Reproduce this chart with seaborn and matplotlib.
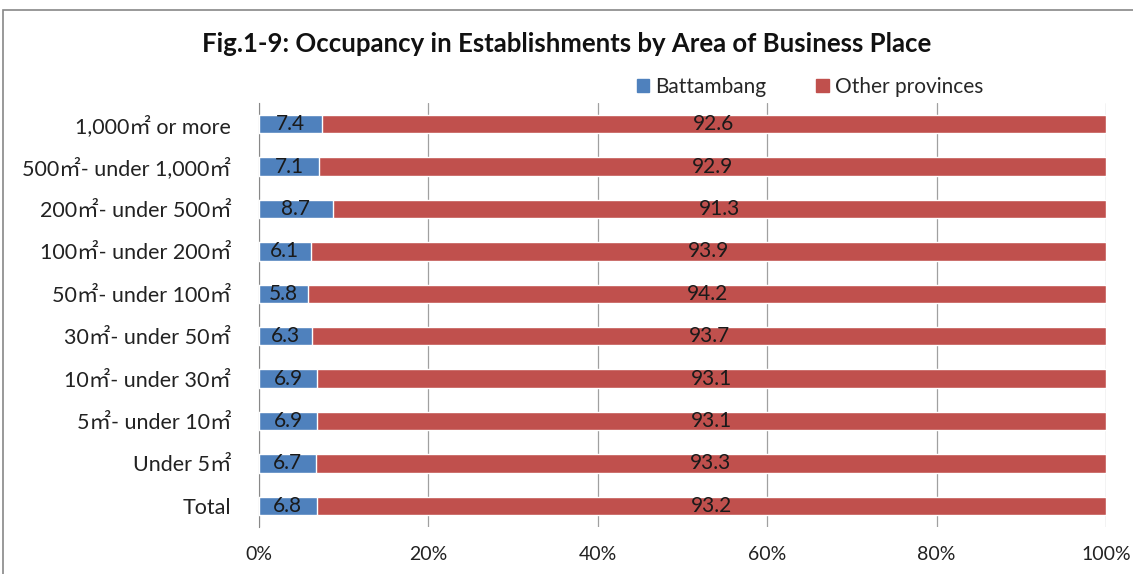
import pandas as pd
import seaborn as sns
import matplotlib.pyplot as plt
from matplotlib.patches import Rectangle, Patch

categories = ["1,000㎡ or more", "500㎡- under 1,000㎡", "200㎡- under 500㎡",
              "100㎡- under 200㎡", "50㎡- under 100㎡", "30㎡- under 50㎡",
              "10㎡- under 30㎡", "5㎡- under 10㎡", "Under 5㎡", "Total"]
battambang = [7.4, 7.1, 8.7, 6.1, 5.8, 6.3, 6.9, 6.9, 6.7, 6.8]
other = [92.6, 92.9, 91.3, 93.9, 94.2, 93.7, 93.1, 93.1, 93.3, 93.2]
xticks = [0, 20, 40, 60, 80, 100]

blue = '#4F81BD'
red = '#C0504D'

df = pd.DataFrame({'cat': categories, 'bat': battambang, 'oth': other})
df['total'] = df['bat'] + df['oth']

sns.set_style('white')
plt.rcParams['font.family'] = ['Lato', 'Noto Sans CJK JP', 'DejaVu Sans']

fig = plt.figure(figsize=(11.33, 5.74), dpi=100)
ax = fig.add_axes([259 / 1133, 1 - 527 / 574, (1106 - 259) / 1133, (527 - 103) / 574])

sns.barplot(data=df, x='total', y='cat', color=red, orient='h', width=0.43,
            saturation=1, ax=ax, zorder=3)
sns.barplot(data=df, x='bat', y='cat', color=blue, orient='h', width=0.43,
            saturation=1, ax=ax, zorder=4)

for i, (b, o) in enumerate(zip(battambang, other)):
    ax.text(b / 2, i, f'{b:.1f}', ha='center', va='center', fontsize=15,
            color='#1a1a1a', zorder=5)
    ax.text(b + o / 2, i, f'{o:.1f}', ha='center', va='center', fontsize=15,
            color='#1a1a1a', zorder=5)

ax.set_xlim(0, 100)
ax.set_ylim(len(categories) - 0.5, -0.5)
ax.set_xticks(xticks)
ax.set_xticklabels([f'{t}%' for t in xticks], fontsize=14, color='#222222')
ax.set_yticks(range(len(categories)))
ax.set_yticklabels(categories, fontsize=15.5, color='#222222')
ax.set_xlabel('')
ax.set_ylabel('')
ax.grid(axis='x', color='#a0a0a0', linewidth=0.9, zorder=0)
ax.set_axisbelow(True)
for s in ['top', 'right', 'bottom']:
    ax.spines[s].set_visible(False)
ax.spines['left'].set_color('#888888')
ax.tick_params(axis='y', which='major', length=0, pad=20)
ax.tick_params(axis='x', which='major', length=6, color='#a0a0a0', pad=8)
# minor ticks between categories on the y axis
ax.set_yticks([i - 0.5 for i in range(len(categories) + 1)], minor=True)
ax.tick_params(axis='y', which='minor', length=5, color='#888888', direction='out')

fig.text(0.5, 1 - 44 / 574, 'Fig.1-9: Occupancy in Establishments by Area of Business Place',
         ha='center', va='center', fontsize=18.5, fontweight='bold', color='#111111')

handles = [Patch(color=blue, label='Battambang'), Patch(color=red, label='Other provinces')]
fig.legend(handles=handles, loc='center', bbox_to_anchor=(0.715, 1 - 87 / 574), ncol=2,
           frameon=False, fontsize=15, handlelength=0.6, handleheight=0.6,
           columnspacing=2.4, handletextpad=0.3)

fig.patches.append(Rectangle((3 / 1133, -0.05), 1.2, 1 - 10 / 574 + 0.05,
                             transform=fig.transFigure, fill=False,
                             edgecolor='#888888', linewidth=1.2))

fig.savefig('out.png', dpi=100)
